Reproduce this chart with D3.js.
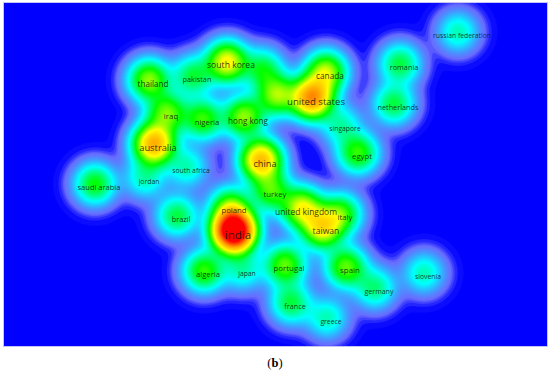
<!DOCTYPE html>
<html><head><meta charset="utf-8">
<script src="https://cdn.jsdelivr.net/npm/d3@7"></script>
<style>html,body{margin:0;padding:0;background:#fff;}svg{display:block}</style>
</head><body>
<svg id="chart" width="550" height="376"></svg>
<script>
// Item labels (countries), their map positions and weights
const countries = ["india","united states","australia","china","south korea","canada","united kingdom","taiwan","thailand","hong kong","iraq","nigeria","egypt","spain","portugal","algeria","poland","turkey","italy","pakistan","romania","netherlands","saudi arabia","brazil","france","germany","russian federation","slovenia","singapore","jordan","south africa","japan","greece","",""];
const mapX = [230,308,150,257,223,322,298,318,145,240,163,199,354,342,281,200,226,267,337,189,396,390,91,173,287,371,454,420,337,141,183,239,323,273,259];
const mapY = [228,95,141,157,59,69,205,225,77,114,110,116,150,264,262,268,204,188,211,73,61,101,181,213,300,285,29,270,122,175,164,267,315,92,66];
const weights = [38,20,18,17,13,11,12,13,10,10,9,8,8,9,9,8,8,8,8,6,6,6,7,6,6,5,4,4,4,4,4,4,4,10,6];
const caption = "(b)";

const W = 550, H = 376;
const panel = {x0: 4, y0: 3, w: 543, h: 343};
const svg = d3.select("#chart");

const x = d3.scaleLinear().domain([0, panel.w]).range([panel.x0, panel.x0 + panel.w]);
const y = d3.scaleLinear().domain([0, panel.h]).range([panel.y0, panel.y0 + panel.h]);
const fontSize = d3.scaleSqrt().domain([4, 38]).range([6.8, 11.5]);
const color = d3.scaleLinear()
  .domain([0, 0.4, 1.3, 2.8, 7, 12.5, 20, 29])
  .range(["#0000ff","#6a6cff","#3aa8ff","#00ffff","#00ff00","#ffff00","#ff9900","#ff0000"])
  .clamp(true);

const items = countries.map((c, i) => ({name: c, x: mapX[i], y: mapY[i], w: weights[i]}));

// kernel density grid
const step = 1.5;
const sigma = 13;
const nx = Math.ceil(panel.w / step) + 1, ny = Math.ceil(panel.h / step) + 1;
const values = new Float64Array(nx * ny);
for (let j = 0; j < ny; j++) {
  const gy = j * step;
  for (let i = 0; i < nx; i++) {
    const gx = i * step;
    let s = 0;
    for (const it of items) {
      const dx = gx - it.x, dy = gy - it.y;
      const d2 = dx * dx + dy * dy;
      if (d2 < 8000) s += it.w * Math.exp(-d2 / (2 * sigma * sigma));
    }
    values[j * nx + i] = s;
  }
}
const vmax = d3.max(values);
const thresholds = d3.range(0.04, vmax, 0.1);

const clipId = "pclip";
svg.append("defs").append("clipPath").attr("id", clipId)
  .append("rect").attr("x", panel.x0).attr("y", panel.y0).attr("width", panel.w).attr("height", panel.h);

svg.append("rect").attr("x", panel.x0).attr("y", panel.y0).attr("width", panel.w).attr("height", panel.h)
  .attr("fill", color(0));

const contours = d3.contours().size([nx, ny]).thresholds(thresholds)(values);
const proj = d3.geoTransform({point: function(px, py) {
  this.stream.point(x((px - 0.5) * step), y((py - 0.5) * step));
}});
const path = d3.geoPath(proj);
svg.append("g").attr("clip-path", `url(#${clipId})`)
  .selectAll("path").data(contours).join("path")
  .attr("d", path).attr("fill", d => color(d.value)).attr("stroke", d => color(d.value)).attr("stroke-width", 0.3);

svg.append("rect").attr("x", panel.x0 - 0.5).attr("y", panel.y0 - 0.5).attr("width", panel.w + 1).attr("height", panel.h + 1)
  .attr("fill", "none").attr("stroke", "#c4c4f4").attr("stroke-width", 1);

svg.append("g").selectAll("text").data(items.filter(d => d.name)).join("text")
  .attr("x", d => x(d.x + 4)).attr("y", d => y(d.y + 3))
  .attr("text-anchor", "middle").attr("dominant-baseline", "central")
  .attr("font-family", "'Open Sans', sans-serif")
  .attr("font-size", d => fontSize(d.w))
  .attr("fill", "#111").attr("fill-opacity", 0.85)
  .text(d => d.name);

const cap = svg.append("text").attr("x", W / 2).attr("y", 367).attr("text-anchor", "middle")
  .attr("font-family", "'Liberation Serif', serif").attr("font-size", 12.5).attr("fill", "#000");
cap.append("tspan").text(caption[0]);
cap.append("tspan").attr("font-weight", "bold").text(caption[1]);
cap.append("tspan").text(caption[2]);
</script>
</body></html>
